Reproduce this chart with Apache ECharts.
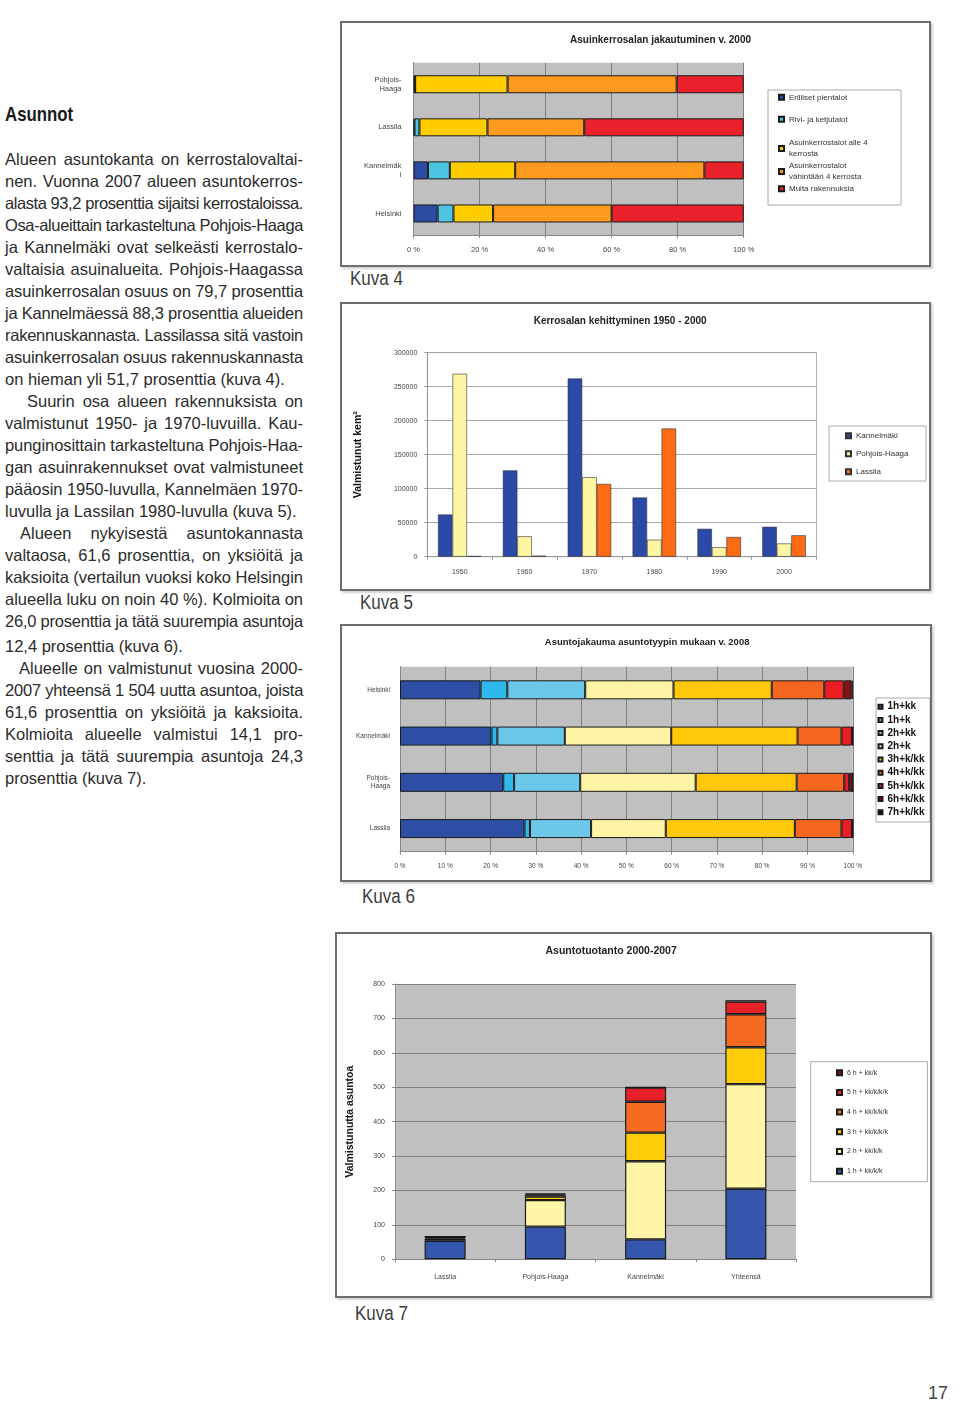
<!DOCTYPE html>
<html><head><meta charset="utf-8">
<script src="https://cdn.jsdelivr.net/npm/echarts@6/dist/echarts.min.js"></script>
<style>
html,body{margin:0;padding:0;background:#fff;}
body{width:960px;height:1402px;position:relative;overflow:hidden;font-family:'Liberation Sans',Arial,sans-serif;}
.frame{position:absolute;border:2px solid #6e6e6e;box-shadow:2px 2px 2px rgba(0,0,0,0.18);background:#fff;}
.ln{position:absolute;white-space:nowrap;font-size:16.5px;line-height:22px;color:#2b2b2b;}
.kuva{position:absolute;font-family:'Liberation Sans',sans-serif;font-size:20px;color:#3c3c3c;line-height:24px;transform:scaleX(0.85);transform-origin:0 0;}
</style></head><body>
<div style="position:absolute;left:5px;top:101px;font-family:'Liberation Sans',sans-serif;font-weight:bold;font-size:20.5px;line-height:26px;color:#1a1a1a;transform:scaleX(0.82);transform-origin:0 0;">Asunnot</div>
<div id="txt"></div>
<div class="frame" id="c4" style="left:340px;top:21px;width:587px;height:242px;"></div>
<div class="kuva" style="left:350px;top:266px;">Kuva 4</div>
<div class="frame" id="c5" style="left:340px;top:302px;width:587px;height:285px;"></div>
<div class="kuva" style="left:360px;top:590px;">Kuva 5</div>
<div class="frame" id="c6" style="left:340px;top:624px;width:588px;height:254px;"></div>
<div class="kuva" style="left:362px;top:884px;">Kuva 6</div>
<div class="frame" id="c7" style="left:335px;top:932px;width:593px;height:362px;"></div>
<div class="kuva" style="left:355px;top:1301px;">Kuva 7</div>
<div style="position:absolute;left:928px;top:1381px;font-size:18px;line-height:24px;color:#444;">17</div>
<script>
// ---------- Kuva 4: Asuinkerrosalan jakautuminen v. 2000 (%) ----------
const areas4 = ['Pohjois-Haaga', 'Lassila', 'Kannelmäki', 'Helsinki'];
const names4 = ['Erilliset pientalot', 'Rivi- ja ketjutalot', 'Asuinkerrostalot alle 4 kerrosta', 'Asuinkerrostalot vähintään 4 kerrosta', 'Muita rakennuksia'];
const erilliset = [0.5, 0.3, 4.4, 7.3];
const rivi = [0, 1.5, 6.6, 4.8];
const alle4 = [28.0, 20.6, 19.8, 12.0];
const vah4 = [51.2, 29.3, 57.3, 35.9];
const muita = [20.3, 48.3, 11.9, 40.0];
const ticks4 = [0, 20, 40, 60, 80, 100];

// ---------- Kuva 5: Kerrosalan kehittyminen 1950 - 2000 (kem²) ----------
const years5 = ['1950', '1960', '1970', '1980', '1990', '2000'];
const kannelmaki5 = [62000, 127000, 262000, 87000, 41000, 44000];
const pohjoisHaaga5 = [269000, 30000, 117000, 25000, 14000, 19500];
const lassila5 = [1000, 1500, 107000, 188500, 29000, 31500];

// ---------- Kuva 6: Asuntojakauma asuntotyypin mukaan v. 2008 (%) ----------
const areas6 = ['Helsinki', 'Kannelmäki', 'Pohjois-Haaga', 'Lassila'];
const names6 = ['1h+kk', '1h+k', '2h+kk', '2h+k', '3h+k/kk', '4h+k/kk', '5h+k/kk', '6h+k/kk', '7h+k/kk'];
const h1kk = [17.8, 20.2, 22.8, 27.5];
const h1k = [5.9, 1.3, 2.4, 1.2];
const h2kk = [17.2, 14.9, 14.6, 13.5];
const h2k = [19.5, 23.5, 25.5, 16.5];
const h3 = [21.7, 27.9, 22.3, 28.5];
const h4 = [11.6, 9.7, 10.5, 10.3];
const h5 = [4.3, 2.3, 1.1, 2.3];
const h6 = [1.7, 0.2, 0.8, 0.2];
const h7 = [0.3, 0, 0, 0];

// ---------- Kuva 7: Asuntotuotanto 2000-2007 ----------
const areas7 = ['Lassila', 'Pohjois-Haaga', 'Kannelmäki', 'Yhteensä'];
const names7 = ['1 h + kk/k/k', '2 h + kk/k/k', '3 h + kk/k/k/k', '4 h + kk/k/k/k', '5 h + kk/k/k/k', '6 h + kk/k'];
const t1h = [54, 95, 58, 205];
const t2h = [6, 77, 227, 304];
const t3h = [3, 10, 83, 107];
const t4h = [2, 4, 90, 96];
const t5h = [1, 3, 41, 37];
const t6h = [0, 2, 1, 4];

// ---------- body text ----------
const lines = [
 [159, 0, 1, 'Alueen asuntokanta on kerrostalovaltai-'],
 [181, 0, 1, 'nen. Vuonna 2007 alueen asuntokerros-'],
 [203, 0, 1, 'alasta 93,2 prosenttia sijaitsi kerrostaloissa.'],
 [225, 0, 1, 'Osa-alueittain tarkasteltuna Pohjois-Haaga'],
 [247, 0, 1, 'ja Kannelmäki ovat selkeästi kerrostalo-'],
 [269, 0, 1, 'valtaisia asuinalueita. Pohjois-Haagassa'],
 [291, 0, 1, 'asuinkerrosalan osuus on 79,7 prosenttia'],
 [313, 0, 1, 'ja Kannelmäessä 88,3 prosenttia alueiden'],
 [335, 0, 1, 'rakennuskannasta. Lassilassa sitä vastoin'],
 [357, 0, 1, 'asuinkerrosalan osuus rakennuskannasta'],
 [379, 0, 0, 'on hieman yli 51,7 prosenttia (kuva 4).'],
 [401, 22, 1, 'Suurin osa alueen rakennuksista on'],
 [423, 0, 1, 'valmistunut 1950- ja 1970-luvuilla. Kau-'],
 [445, 0, 1, 'punginosittain tarkasteltuna Pohjois-Haa-'],
 [467, 0, 1, 'gan asuinrakennukset ovat valmistuneet'],
 [489, 0, 1, 'pääosin 1950-luvulla, Kannelmäen 1970-'],
 [511, 0, 0, 'luvulla ja Lassilan 1980-luvulla (kuva 5).'],
 [533, 15, 1, 'Alueen nykyisestä asuntokannasta'],
 [555, 0, 1, 'valtaosa, 61,6 prosenttia, on yksiöitä ja'],
 [577, 0, 1, 'kaksioita (vertailun vuoksi koko Helsingin'],
 [599, 0, 1, 'alueella luku on noin 40 %). Kolmioita on'],
 [621, 0, 1, '26,0 prosenttia ja tätä suurempia asuntoja'],
 [646, 0, 0, '12,4 prosenttia (kuva 6).'],
 [668, 14, 1, 'Alueelle on valmistunut vuosina 2000-'],
 [690, 0, 1, '2007 yhteensä 1 504 uutta asuntoa,  joista'],
 [712, 0, 1, '61,6 prosenttia on yksiöitä ja kaksioita.'],
 [734, 0, 1, 'Kolmioita alueelle valmistui 14,1 pro-'],
 [756, 0, 1, 'senttia ja tätä suurempia asuntoja 24,3'],
 [778, 0, 0, 'prosenttia (kuva 7).']
];
const txt = document.getElementById('txt');
const RIGHT = 303, LEFT = 5;
lines.forEach(([yc, ind, just, s]) => {
  const d = document.createElement('div');
  d.className = 'ln';
  d.style.left = (LEFT + ind) + 'px';
  d.style.top = (yc - 11) + 'px';
  d.textContent = s;
  txt.appendChild(d);
  const target = RIGHT - LEFT - ind;
  const w = d.getBoundingClientRect().width;
  if (just) {
    if (w > target) {
      d.style.letterSpacing = ((target - w) / s.length) + 'px';
    } else {
      const sp = (s.match(/ /g) || []).length;
      if (sp) d.style.wordSpacing = ((target - w) / sp) + 'px';
    }
  } else if (w > target) {
    d.style.letterSpacing = ((target - w) / s.length) + 'px';
  }
});

const FONT = 'Liberation Sans';
const edge = '#1a1a1a';

// ---------- chart 4 ----------
const vals4 = [erilliset, rivi, alle4, vah4, muita];
const colors4 = ['#2c4ca2', '#4cc4e2', '#ffcc00', '#ff9a1e', '#e8212a'];
const legendLabel4 = {
  'Asuinkerrostalot alle 4 kerrosta': 'Asuinkerrostalot alle 4\nkerrosta',
  'Asuinkerrostalot vähintään 4 kerrosta': 'Asuinkerrostalot\nvähintään 4 kerrosta'
};
const wrap4 = {'Pohjois-Haaga': 'Pohjois-\nHaaga', 'Kannelmäki': 'Kannelmäk\ni'};
const c4 = echarts.init(document.getElementById('c4'));
c4.setOption({
  animation: false,
  textStyle: {fontFamily: FONT},
  title: {text: 'Asuinkerrosalan jakautuminen v. 2000', left: 223, top: 7, textStyle: {fontSize: 10, fontWeight: 'bold', color: '#222', fontFamily: FONT}},
  grid: {left: 71.5, right: 185.3, top: 39.7, bottom: 30, show: true, backgroundColor: '#c0c0c0', borderWidth: 0},
  xAxis: {type: 'value', min: ticks4[0], max: ticks4[ticks4.length - 1], interval: 20,
    axisLabel: {formatter: '{value} %', fontSize: 7.5, color: '#444', margin: 11},
    splitLine: {lineStyle: {color: '#808080', width: 1}},
    axisLine: {show: true, lineStyle: {color: '#888'}}, axisTick: {show: true, length: 3, lineStyle: {color: '#888'}}},
  yAxis: {type: 'category', inverse: true, data: areas4,
    axisLabel: {fontSize: 7.5, color: '#444', margin: 12, lineHeight: 9, formatter: v => wrap4[v] || v},
    axisLine: {show: true, lineStyle: {color: '#888'}}, axisTick: {show: false}},
  graphic: [{type: 'rect', z: 1, shape: {x: 426, y: 67, width: 133, height: 115}, style: {fill: '#fff', stroke: '#aaa', lineWidth: 1}}],
  legend: [
    {data: names4.slice(0, 2), orient: 'vertical', left: 436, top: 68.8, padding: 0, itemWidth: 5, itemHeight: 5, itemGap: 11, icon: 'rect', selectedMode: false,
      textStyle: {fontSize: 8, color: '#333', lineHeight: 11, fontFamily: FONT}},
    {data: names4.slice(2), orient: 'vertical', left: 436, top: 114, padding: 0, itemWidth: 5, itemHeight: 5, itemGap: 0, icon: 'rect', selectedMode: false,
      formatter: n => legendLabel4[n] || n,
      textStyle: {fontSize: 8, color: '#333', lineHeight: 11.5, fontFamily: FONT}}
  ],
  series: names4.map((n, i) => ({name: n, type: 'bar', stack: 'a', data: vals4[i], barWidth: 18,
    itemStyle: {color: colors4[i], borderColor: edge, borderWidth: 1}}))
});

// ---------- chart 5 ----------
const c5 = echarts.init(document.getElementById('c5'));
const names5 = ['Kannelmäki', 'Pohjois-Haaga', 'Lassila'];
const vals5 = [kannelmaki5, pohjoisHaaga5, lassila5];
const colors5 = ['#2b49a6', '#fff6a4', '#ff6a14'];
c5.setOption({
  animation: false,
  textStyle: {fontFamily: FONT},
  title: {text: 'Kerrosalan kehittyminen 1950 - 2000', left: 186.7, top: 7, textStyle: {fontSize: 10, fontWeight: 'bold', color: '#222', fontFamily: FONT}},
  grid: {left: 85.3, right: 112.5, top: 48.7, bottom: 32.3, show: true, backgroundColor: '#fff', borderColor: '#b5b5b5', borderWidth: 1},
  xAxis: {type: 'category', data: years5,
    axisLabel: {fontSize: 7, color: '#444', margin: 12},
    axisLine: {lineStyle: {color: '#999'}}, axisTick: {show: true, length: 3, lineStyle: {color: '#999'}}},
  yAxis: {type: 'value', min: 0, max: 300000, interval: 50000,
    name: 'Valmistunut kem²', nameLocation: 'middle', nameGap: 64, nameRotate: 90,
    nameTextStyle: {fontSize: 10.5, fontWeight: 'bold', color: '#111', fontFamily: FONT},
    axisLabel: {fontSize: 7, color: '#444', margin: 10, formatter: v => String(v)},
    splitLine: {lineStyle: {color: '#a8a8a8'}},
    axisLine: {show: true, lineStyle: {color: '#999'}}, axisTick: {show: true, length: 3, lineStyle: {color: '#999'}}},
  graphic: [{type: 'rect', z: 1, shape: {x: 487, y: 122, width: 97, height: 55}, style: {fill: '#fff', stroke: '#aaa', lineWidth: 1}}],
  legend: {data: names5, orient: 'vertical', left: 503, top: 126.7, padding: 0, itemWidth: 5, itemHeight: 5, itemGap: 8, icon: 'rect', selectedMode: false,
    textStyle: {fontSize: 8, color: '#333', lineHeight: 10, fontFamily: FONT}},
  series: names5.map((n, i) => ({name: n, type: 'bar', data: vals5[i], barWidth: 14.5, barGap: '0%',
    itemStyle: {color: colors5[i], borderColor: '#333', borderWidth: 0.6}}))
});

// ---------- chart 6 ----------
const c6 = echarts.init(document.getElementById('c6'));
const vals6 = [h1kk, h1k, h2kk, h2k, h3, h4, h5, h6, h7];
const colors6 = ['#2d4ea5', '#2fb8ec', '#6cc8e8', '#fff3a6', '#ffc90a', '#f7661e', '#ec1c24', '#8c1010', '#2a0505'];
c6.setOption({
  animation: false,
  textStyle: {fontFamily: FONT},
  title: {text: 'Asuntojakauma asuntotyypin mukaan v. 2008', left: 197.8, top: 6, textStyle: {fontSize: 9.5, fontWeight: 'bold', color: '#222', fontFamily: FONT}},
  grid: {left: 58, right: 77.2, top: 40.7, bottom: 28.3, show: true, backgroundColor: '#c0c0c0', borderWidth: 0},
  xAxis: {type: 'value', min: 0, max: 100, interval: 10,
    axisLabel: {formatter: '{value} %', fontSize: 6.5, color: '#444', margin: 11},
    splitLine: {lineStyle: {color: '#808080', width: 1}},
    axisLine: {show: true, lineStyle: {color: '#888'}}, axisTick: {show: true, length: 3, lineStyle: {color: '#888'}}},
  yAxis: {type: 'category', inverse: true, data: areas6,
    axisLabel: {fontSize: 6.5, color: '#444', margin: 10, lineHeight: 8, formatter: v => v === 'Pohjois-Haaga' ? 'Pohjois-\nHaaga' : v},
    axisLine: {show: true, lineStyle: {color: '#888'}}, axisTick: {show: false}},
  graphic: [{type: 'rect', z: 1, shape: {x: 534, y: 72, width: 54, height: 124}, style: {fill: '#fff', stroke: '#aaa', lineWidth: 1}}],
  legend: {data: names6, orient: 'vertical', left: 535.5, top: 75.2, padding: 0, itemWidth: 4, itemHeight: 4, itemGap: 2.2, icon: 'rect', selectedMode: false,
    textStyle: {fontSize: 10, fontWeight: 'bold', color: '#111', lineHeight: 11, fontFamily: FONT}},
  series: names6.map((n, i) => ({name: n, type: 'bar', stack: 'a', data: vals6[i], barWidth: 19,
    itemStyle: {color: colors6[i], borderColor: edge, borderWidth: 1}}))
});

// ---------- chart 7 ----------
const c7 = echarts.init(document.getElementById('c7'));
const vals7 = [t1h, t2h, t3h, t4h, t5h, t6h];
const colors7 = ['#3556ad', '#fff5a6', '#ffcc0a', '#f76a22', '#e8202a', '#8c1010'];
c7.setOption({
  animation: false,
  textStyle: {fontFamily: FONT},
  title: {text: 'Asuntotuotanto 2000-2007', left: 203.5, top: 7, textStyle: {fontSize: 10.5, fontWeight: 'bold', color: '#222', fontFamily: FONT}},
  grid: {left: 54.3, right: 134, top: 50, bottom: 36.7, show: true, backgroundColor: '#c0c0c0', borderWidth: 0},
  xAxis: {type: 'category', data: areas7,
    axisLabel: {fontSize: 7, color: '#444', margin: 14},
    axisLine: {lineStyle: {color: '#888'}}, axisTick: {show: true, length: 3, lineStyle: {color: '#888'}}},
  yAxis: {type: 'value', min: 0, max: 800, interval: 100,
    name: 'Valmistunutta asuntoa', nameLocation: 'middle', nameGap: 39, nameRotate: 90,
    nameTextStyle: {fontSize: 10.5, fontWeight: 'bold', color: '#111', fontFamily: FONT},
    axisLabel: {fontSize: 7, color: '#444', margin: 10},
    splitLine: {lineStyle: {color: '#808080'}},
    axisLine: {show: true, lineStyle: {color: '#888'}}, axisTick: {show: true, length: 3, lineStyle: {color: '#888'}}},
  graphic: [{type: 'rect', z: 1, shape: {x: 473.7, y: 127.7, width: 116.7, height: 120}, style: {fill: '#fff', stroke: '#aaa', lineWidth: 1}}],
  legend: {data: names7.slice().reverse(), orient: 'vertical', left: 499, top: 134.2, padding: 0, itemWidth: 5, itemHeight: 5, itemGap: 10.7, icon: 'rect', selectedMode: false,
    textStyle: {fontSize: 7, color: '#333', lineHeight: 9, fontFamily: FONT}},
  series: names7.map((n, i) => ({name: n, type: 'bar', stack: 'a', data: vals7[i], barWidth: 41,
    itemStyle: {color: colors7[i], borderColor: edge, borderWidth: 1.2}}))
});
</script>
</body></html>
